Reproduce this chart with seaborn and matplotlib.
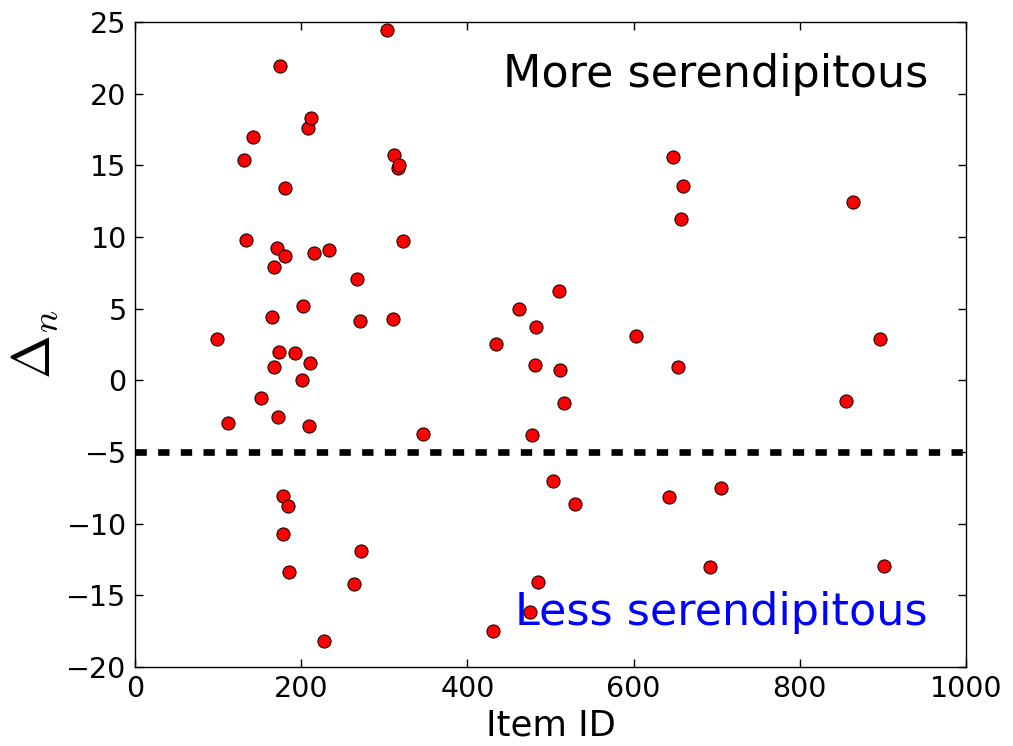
import pandas as pd
import matplotlib
matplotlib.use("Agg")
import matplotlib.pyplot as plt
import seaborn as sns

# valores (Item ID, Delta_n)
item_id = [
    99, 112, 131, 134, 142, 152, 165, 167, 167, 171, 172, 173, 175, 178, 181, 181,
    178, 184, 185, 193, 202, 201, 208, 212, 209, 210, 215, 227, 233, 264, 267, 271,
    272, 303, 310, 312, 316, 318, 323, 346, 431, 434, 462, 475, 478, 481, 483, 485,
    503, 510, 511, 516, 529, 603, 642, 648, 654, 657, 659, 692, 705, 856, 864, 897,
    901,
]
delta_n = [
    2.88, -3.0, 15.4, 9.8, 17.0, -1.26, 4.4, 0.95, 7.9, 9.2, -2.56, 1.98, 21.9, -8.1, 13.4, 8.7,
    -10.7, -8.77, -13.37, 1.88, 5.2, 0.0, 17.6, 18.3, -3.19, 1.23, 8.88, -18.16, 9.1, -14.19, 7.1, 4.14,
    -11.93, 24.41, 4.25, 15.7, 14.8, 14.99, 9.73, -3.77, -17.47, 2.55, 4.96, -16.18, -3.83, 1.05, 3.72, -14.06,
    -7.02, 6.25, 0.72, -1.57, -8.6, 3.07, -8.16, 15.6, 0.91, 11.26, 13.58, -13.0, -7.53, -1.46, 12.44, 2.86,
    -12.93,
]
umbral = -5

datos = pd.DataFrame({"item": item_id, "delta": delta_n})

sns.set_theme(style="white", rc={
    "xtick.direction": "in", "ytick.direction": "in",
    "xtick.top": True, "ytick.right": True,
    "xtick.bottom": True, "ytick.left": True,
    "xtick.major.size": 6, "ytick.major.size": 6,
    "xtick.major.width": 1, "ytick.major.width": 1,
    "xtick.major.pad": 6, "ytick.major.pad": 6,
    "axes.edgecolor": "black", "axes.linewidth": 1.0,
    "xtick.color": "black", "ytick.color": "black",
    "axes.labelcolor": "black", "text.color": "black",
    "mathtext.fontset": "cm",
})
plt.rcParams["font.family"] = ["DejaVu Sans"]

fig = plt.figure(figsize=(10.13, 7.46), dpi=100)
ax = fig.add_axes([0.1333, 0.1059, 0.8203, 0.8646])

ax.axhline(umbral, color="black", linewidth=4.8, linestyle=(0, (1.7, 1.7)), zorder=2)
sns.scatterplot(data=datos, x="item", y="delta", ax=ax, color="red",
                edgecolor="black", linewidth=0.7, s=90, zorder=3)

ax.text(0.954, 0.90, "More serendipitous", transform=ax.transAxes,
        ha="right", va="baseline", fontsize=32, color="black", zorder=1)
ax.text(0.954, 0.065, "Less serendipitous", transform=ax.transAxes,
        ha="right", va="baseline", fontsize=32, color="blue", zorder=1)

ax.set_xlim(0, 1000)
ax.set_ylim(-20, 25)
ax.set_xticks(range(0, 1001, 200))
ax.set_yticks(range(-20, 26, 5))
ax.tick_params(labelsize=20.5, labelcolor="black")
ax.set_xlabel("Item ID", fontsize=25.5, labelpad=4)
ax.set_ylabel(r"$\Delta_n$", fontsize=38, labelpad=4)

fig.savefig("out.png", dpi=100)
